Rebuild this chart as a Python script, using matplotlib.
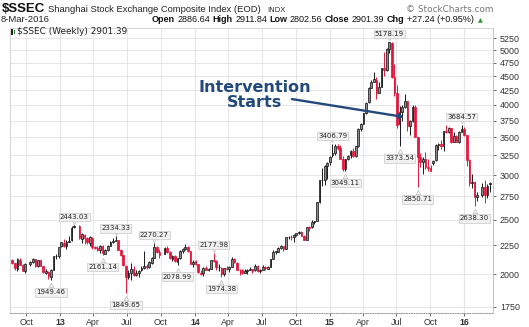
import matplotlib
matplotlib.use('Agg')
import matplotlib.pyplot as plt
import matplotlib.dates as mdates
from matplotlib.transforms import offset_copy
from matplotlib.ticker import FixedLocator, NullLocator
from matplotlib.patches import Rectangle
import datetime as dt

# ---------------- data (weekly OHLC) ----------------
dates = [
    '2012-08-24', '2012-08-31', '2012-09-07', '2012-09-14', '2012-09-21', '2012-09-28',
    '2012-10-12', '2012-10-19', '2012-10-26', '2012-11-02', '2012-11-09', '2012-11-16',
    '2012-11-23', '2012-11-30', '2012-12-07', '2012-12-14', '2012-12-21', '2012-12-28',
    '2013-01-04', '2013-01-11', '2013-01-18', '2013-01-25', '2013-02-01', '2013-02-08',
    '2013-02-22', '2013-03-01', '2013-03-08', '2013-03-15', '2013-03-22', '2013-03-29',
    '2013-04-05', '2013-04-12', '2013-04-19', '2013-04-26', '2013-05-03', '2013-05-10',
    '2013-05-17', '2013-05-24', '2013-05-31', '2013-06-07', '2013-06-14', '2013-06-21',
    '2013-06-28', '2013-07-05', '2013-07-12', '2013-07-19', '2013-07-26', '2013-08-02',
    '2013-08-09', '2013-08-16', '2013-08-23', '2013-08-30', '2013-09-06', '2013-09-13',
    '2013-09-20', '2013-09-27', '2013-10-11', '2013-10-18', '2013-10-25', '2013-11-01',
    '2013-11-08', '2013-11-15', '2013-11-22', '2013-11-29', '2013-12-06', '2013-12-13',
    '2013-12-20', '2013-12-27',
    '2014-01-03', '2014-01-10', '2014-01-17', '2014-01-24', '2014-01-31', '2014-02-07',
    '2014-02-14', '2014-02-21', '2014-02-28', '2014-03-07', '2014-03-14', '2014-03-21',
    '2014-03-28', '2014-04-04', '2014-04-11', '2014-04-18', '2014-04-25', '2014-05-02',
    '2014-05-09', '2014-05-16', '2014-05-23', '2014-05-30', '2014-06-06', '2014-06-13',
    '2014-06-20', '2014-06-27', '2014-07-04', '2014-07-11', '2014-07-18', '2014-07-25',
    '2014-08-01', '2014-08-08', '2014-08-15', '2014-08-22', '2014-08-29', '2014-09-05',
    '2014-09-12', '2014-09-19', '2014-09-26', '2014-10-03', '2014-10-10', '2014-10-17',
    '2014-10-24', '2014-10-31', '2014-11-07', '2014-11-14', '2014-11-21', '2014-11-28',
    '2014-12-05', '2014-12-12', '2014-12-19', '2014-12-26',
    '2015-01-02', '2015-01-09', '2015-01-16', '2015-01-23', '2015-01-30', '2015-02-06',
    '2015-02-13', '2015-02-20', '2015-02-27', '2015-03-06', '2015-03-13', '2015-03-20',
    '2015-03-27', '2015-04-03', '2015-04-10', '2015-04-17', '2015-04-24', '2015-05-01',
    '2015-05-08', '2015-05-15', '2015-05-22', '2015-05-29', '2015-06-05', '2015-06-12',
    '2015-06-19', '2015-06-26', '2015-07-03', '2015-07-10', '2015-07-17', '2015-07-24',
    '2015-07-31', '2015-08-07', '2015-08-14', '2015-08-21', '2015-08-28', '2015-09-04',
    '2015-09-11', '2015-09-18', '2015-09-25', '2015-10-02', '2015-10-09', '2015-10-16',
    '2015-10-23', '2015-10-30', '2015-11-06', '2015-11-13', '2015-11-20', '2015-11-27',
    '2015-12-04', '2015-12-11', '2015-12-18', '2015-12-25', '2016-01-01',
    '2016-01-08', '2016-01-15', '2016-01-22', '2016-01-29', '2016-02-05', '2016-02-19',
    '2016-02-26', '2016-03-04', '2016-03-11',
]
opens = [
    2115, 2090, 2045, 2122, 2075, 2025, 2086, 2100, 2125, 2065, 2115, 2068,
    2010, 2020, 1975, 2035, 2150, 2152,
    2240, 2275, 2245, 2285, 2295, 2420, 2430, 2310, 2350, 2315, 2275, 2320,
    2235, 2225, 2205, 2240, 2175, 2205, 2245, 2285, 2290, 2300, 2210, 2160,
    2070, 1975, 2005, 2040, 1990, 2010, 2030, 2050, 2065, 2055, 2095, 2140,
    2235, 2190, 2175, 2225, 2190, 2130, 2150, 2105, 2135, 2195, 2220, 2235,
    2195, 2085,
    2110, 2080, 2010, 2005, 2050, 2030, 2045, 2115, 2110, 2055, 2050, 2000,
    2045, 2045, 2060, 2130, 2095, 2035, 2030, 2010, 2025, 2035, 2040, 2030,
    2070, 2025, 2035, 2060, 2045, 2060, 2130, 2185, 2190, 2225, 2240, 2220,
    2325, 2330, 2330, 2345, 2365, 2375, 2340, 2300, 2420, 2420, 2475, 2490,
    2690, 2940, 2940, 3110,
    3160, 3258, 3285, 3380, 3350, 3210, 3075, 3205, 3250, 3310, 3245, 3375,
    3620, 3700, 3870, 4040, 4290, 4400, 4430, 4200, 4310, 4660, 4610, 5030,
    5150, 4480, 4200, 3690, 3880, 3960, 4070, 3660, 3745, 3965, 3500, 3235,
    3160, 3200, 3100, 3090, 3150, 3185, 3390, 3410, 3380, 3590, 3575, 3630,
    3440, 3520, 3430, 3580, 3625,
    3536, 3190, 2900, 2915, 2740, 2760, 2860, 2760, 2887,
]
highs = [
    2126, 2094, 2134, 2132, 2083, 2091, 2107, 2133, 2130, 2118, 2122, 2070,
    2040, 2025, 2040, 2150, 2170, 2236,
    2283, 2312, 2300, 2336, 2430, 2443.03, 2440, 2370, 2354, 2330, 2335, 2330,
    2245, 2245, 2250, 2250, 2215, 2250, 2290, 2320, 2334.33, 2303, 2215, 2165,
    2075, 2035, 2092, 2065, 2030, 2035, 2070, 2198, 2085, 2110, 2145, 2270.27,
    2240, 2220, 2230, 2242, 2200, 2165, 2160, 2140, 2205, 2225, 2260, 2240,
    2200, 2120,
    2115, 2085, 2030, 2060, 2065, 2050, 2120, 2177.98, 2120, 2080, 2060, 2050,
    2070, 2070, 2146, 2135, 2100, 2045, 2040, 2045, 2040, 2055, 2045, 2080,
    2075, 2045, 2075, 2065, 2065, 2130, 2210, 2200, 2230, 2250, 2245, 2330,
    2340, 2345, 2355, 2366, 2390, 2390, 2345, 2425, 2430, 2500, 2490, 2690,
    2940, 3091, 3130, 3170,
    3240, 3406.79, 3400, 3406, 3390, 3240, 3210, 3250, 3330, 3350, 3380, 3630,
    3720, 3870, 4050, 4300, 4420, 4572, 4480, 4400, 4660, 4958, 5051, 5178.19,
    5164, 4720, 4330, 3975, 4000, 4185, 4070, 3760, 4000, 3990, 3510, 3290,
    3230, 3300, 3200, 3120, 3190, 3400, 3420, 3460, 3600, 3680, 3645, 3640,
    3580, 3530, 3590, 3684.57, 3645,
    3540, 3200, 3010, 2930, 2800, 2900, 2935, 2890, 2912,
]
lows = [
    2088, 2032, 2029, 2072, 2024, 2005, 2070, 2095, 2062, 2058, 2066, 2012,
    2000, 1960, 1949.46, 2030, 2130, 2140,
    2235, 2236, 2220, 2285, 2290, 2410, 2310, 2270, 2260, 2262, 2245, 2220,
    2215, 2200, 2180, 2161.14, 2170, 2200, 2240, 2275, 2290, 2205, 2150, 2065,
    1849.65, 1960, 1950, 1985, 1980, 1975, 2025, 2040, 2040, 2050, 2085, 2140,
    2180, 2140, 2170, 2180, 2125, 2110, 2100, 2078.99, 2130, 2180, 2210, 2190,
    2080, 2060,
    2075, 2010, 1990, 1985, 2030, 2025, 2040, 2105, 2030, 2025, 1974.38, 1985,
    2030, 2020, 2055, 2090, 2030, 1990, 2000, 2005, 2000, 2030, 2010, 2025,
    2020, 2010, 2030, 2035, 2040, 2055, 2125, 2170, 2185, 2215, 2195, 2215,
    2310, 2300, 2285, 2340, 2360, 2335, 2295, 2295, 2390, 2410, 2450, 2485,
    2680, 2870, 2880, 2950,
    3130, 3230, 3250, 3330, 3200, 3050, 3049.11, 3195, 3220, 3225, 3230, 3365,
    3600, 3690, 3860, 4030, 4280, 4390, 4100, 4200, 4300, 4500, 4600, 4950,
    4470, 4140, 3630, 3373.54, 3750, 3950, 3600, 3540, 3730, 3500, 2850.71, 3100,
    3010, 3070, 3050, 3050, 3130, 3180, 3320, 3340, 3310, 3560, 3560, 3420,
    3430, 3430, 3420, 3580, 3525,
    3115, 2867, 2840, 2638.30, 2700, 2740, 2680, 2730, 2803,
]
closes = [
    2092, 2047, 2128, 2079, 2027, 2086, 2104, 2128, 2066, 2117, 2069, 2014,
    2026, 1980, 2033, 2150, 2153, 2233,
    2276, 2243, 2284, 2292, 2419, 2433, 2314, 2359, 2319, 2278, 2328, 2236,
    2225, 2206, 2244, 2177, 2205, 2247, 2283, 2288, 2301, 2210, 2162, 2073,
    1979, 2007, 2039, 1992, 2010, 2029, 2052, 2068, 2057, 2098, 2139, 2236,
    2191, 2160, 2228, 2193, 2133, 2149, 2106, 2135, 2197, 2220, 2238, 2196,
    2085, 2101,
    2083, 2013, 2004, 2054, 2033, 2044, 2115, 2113, 2056, 2057, 2004, 2047,
    2046, 2058, 2131, 2098, 2036, 2033, 2011, 2026, 2035, 2039, 2029, 2070,
    2024, 2036, 2059, 2047, 2059, 2127, 2185, 2194, 2226, 2240, 2217, 2327,
    2331, 2329, 2347, 2364, 2375, 2341, 2302, 2420, 2418, 2478, 2487, 2683,
    2938, 2938, 3108, 3157,
    3234, 3285, 3376, 3351, 3210, 3076, 3204, 3247, 3311, 3241, 3373, 3617,
    3691, 3864, 4034, 4287, 4394, 4442, 4205, 4308, 4657, 4611, 5023, 5166,
    4478, 4193, 3687, 3878, 3957, 4071, 3664, 3744, 3965, 3508, 3232, 3160,
    3200, 3097, 3092, 3053, 3183, 3391, 3413, 3383, 3590, 3580, 3630, 3436,
    3525, 3435, 3578, 3628, 3539,
    3186, 2901, 2916, 2737, 2763, 2860, 2767, 2874, 2901.39,
]

# labelled extremes: (value, 'H' = swing high / 'L' = swing low)
label_values = [1949.46, 2443.03, 2161.14, 2334.33, 1849.65, 2270.27, 2078.99,
                2177.98, 1974.38, 3406.79, 3049.11, 5178.19, 3373.54, 2850.71,
                3684.57, 2638.30]
label_kinds = ['L', 'H', 'L', 'H', 'L', 'H', 'L', 'H', 'L', 'H', 'L', 'H', 'L',
               'L', 'H', 'L']

y_ticks = [1750, 2000, 2250, 2500, 2750, 3000, 3250, 3500, 3750, 4000, 4250,
           4500, 4750, 5000, 5250]
x_tick_dates = ['2012-10-01', '2013-01-01', '2013-04-01', '2013-07-01',
                '2013-10-01', '2014-01-01', '2014-04-01', '2014-07-01',
                '2014-10-01', '2015-01-01', '2015-04-01', '2015-07-01',
                '2015-10-01', '2016-01-01']
x_tick_labels = ['Oct', '13', 'Apr', 'Jul', 'Oct', '14', 'Apr', 'Jul', 'Oct',
                 '15', 'Apr', 'Jul', 'Oct', '16']

title_sym = '$SSEC'
title_name = 'Shanghai Stock Exchange Composite Index (EOD)'
quote_date = '8-Mar-2016'
quote_parts = [('Open', '2886.64'), ('High', '2911.84'), ('Low', '2802.56'),
               ('Close', '2901.39'), ('Chg', '+27.24 (+0.95%)')]

# ---------------- figure ----------------
W, H = 529, 327
fig = plt.figure(figsize=(W / 100, H / 100), dpi=100)
fig.patch.set_facecolor('white')


def fx(x):
    return x / W


def fy(y):
    return 1 - y / H


ax = fig.add_axes([fx(10), fy(312.7), (493 - 10) / W, (312.7 - 27.5) / H])
ax.set_yscale('log')

RED = '#e3173e'
BLK = '#1a1a1a'
xd = [mdates.date2num(dt.date.fromisoformat(d)) for d in dates]
bw = 4.6
for i, (x, o, h, l, c) in enumerate(zip(xd, opens, highs, lows, closes)):
    prev = closes[i - 1] if i > 0 else o
    col = RED if c < prev else BLK
    ax.vlines(x, l, h, color=col, lw=0.7, zorder=3)
    lo_b, hi_b = min(o, c), max(o, c)
    if hi_b - lo_b < 1:
        hi_b = lo_b + 1
    face = col if c < o else ('#ffffff' if col == BLK else '#f7b5c2')
    if col == BLK and c >= o:
        face = '#8a8a8a'
    ax.add_patch(Rectangle((x - bw / 2, lo_b), bw, hi_b - lo_b, facecolor=face,
                           edgecolor=col, lw=0.55, zorder=4))

ax.set_xlim(mdates.date2num(dt.date(2012, 8, 18)), mdates.date2num(dt.date(2016, 3, 19)))
ax.set_ylim(1707, 5490)

# ticks
ax.yaxis.set_major_locator(FixedLocator(y_ticks))
ax.yaxis.set_minor_locator(NullLocator())
ax.set_yticklabels([str(v) for v in y_ticks])
ax.yaxis.tick_right()
xt = [mdates.date2num(dt.date.fromisoformat(d)) for d in x_tick_dates]
ax.set_xticks(xt)
ax.set_xticklabels(x_tick_labels)
ax.xaxis.set_minor_locator(NullLocator())
for lab in ax.get_xticklabels():
    lab.set_fontfamily('Liberation Sans')
    if lab.get_text().isdigit():
        lab.set_fontweight('bold')
for lab in ax.get_yticklabels():
    lab.set_fontfamily('Liberation Sans')
ax.tick_params(axis='both', labelsize=6.4, colors='#333333', length=2, width=0.5)
ax.tick_params(axis='x', pad=1.5)
ax.tick_params(axis='y', pad=3)

ax.grid(True, color='#e6e6e6', lw=0.7, zorder=0)
for x, lab in zip(xt, x_tick_labels):
    if lab.isdigit():
        ax.axvline(x, color='#d2d2d2', lw=0.8, zorder=0.5)
for s in ['top', 'left']:
    ax.spines[s].set_color('#d0d0d0')
    ax.spines[s].set_linewidth(0.6)
ax.spines['right'].set_color('#b8b8b8')
ax.spines['right'].set_linewidth(0.6)
ax.spines['bottom'].set_color('#999999')
ax.spines['bottom'].set_linestyle((0, (1, 1.5)))
ax.spines['bottom'].set_linewidth(0.7)

# labelled highs / lows
for v, k in zip(label_values, label_kinds):
    src = highs if k == 'H' else lows
    idx = min(range(len(src)), key=lambda j: abs(src[j] - v))
    x = xd[idx]
    if k == 'H':
        off, moff, mk = 8, 3.5, 'v'
    else:
        off, moff, mk = -12, -5, '^'
    ax.annotate(f'{v:.2f}', xy=(x, v), xytext=(0, off), textcoords='offset pixels',
                ha='center', va='center', fontsize=5.0, color='#222222',
                fontfamily='DejaVu Sans', annotation_clip=False, zorder=6,
                bbox=dict(boxstyle='square,pad=0.18', fc='#f1f1f1', ec='#c9c9c9', lw=0.5))
    tr = offset_copy(ax.transData, fig=fig, x=0, y=moff, units='dots')
    ax.plot([x], [v], marker=mk, ms=3.2, mfc='#f6f6f6', mec='#bdbdbd', mew=0.5,
            transform=tr, zorder=5, clip_on=False)

# intervention note
NAVY = '#24497b'
ax.text(mdates.date2num(dt.date(2014, 6, 12)), 4170, 'Intervention\nStarts',
        ha='center', va='center', fontsize=11.5, fontweight='bold', color=NAVY,
        linespacing=1.0, fontfamily='DejaVu Sans', zorder=7)
ax.annotate('', xy=(mdates.date2num(dt.date(2015, 7, 22)), 3805),
            xytext=(mdates.date2num(dt.date(2014, 9, 21)), 4095),
            arrowprops=dict(arrowstyle='-|>', color=NAVY, lw=1.7, shrinkA=0,
                            shrinkB=0, mutation_scale=6), zorder=7)

# legend line inside plot
fig.patches.append(Rectangle((fx(11), fy(34.5)), 2.2 / W, 6 / H, transform=fig.transFigure,
                             facecolor='#222222', edgecolor='none'))
fig.patches.append(Rectangle((fx(13.6), fy(33.5)), 1.6 / W, 4 / H, transform=fig.transFigure,
                             facecolor='#2a8a2a', edgecolor='none'))
fig.text(fx(17), fy(31.5), '$SSEC (Weekly) 2901.39', fontsize=6.4, color='#222222',
         fontfamily='DejaVu Sans', va='center', ha='left', parse_math=False)

# header
fig.text(fx(1.5), fy(12), title_sym, fontsize=9.5, fontweight='bold', color='#111111',
         fontfamily='Liberation Sans', va='baseline', parse_math=False)
fig.text(fx(48), fy(12), title_name, fontsize=6.75, color='#222222',
         fontfamily='Liberation Sans', va='baseline')
fig.text(fx(267), fy(12), 'INDX', fontsize=5.3, color='#333333',
         fontfamily='DejaVu Sans', va='baseline')
fig.text(fx(493), fy(12), '\u00a9 StockCharts.com', fontsize=6.4, color='#777777',
         fontfamily='DejaVu Sans', va='baseline', ha='right')
fig.text(fx(1), fy(22.5), quote_date, fontsize=6.8, color='#222222',
         fontfamily='Liberation Sans', va='baseline')

renderer = fig.canvas.get_renderer()
pieces = []
for lab, val in quote_parts:
    pieces.append((lab, 'bold'))
    pieces.append((val, 'normal'))
texts = []
total = 0
gap = 2.4
for s, w in pieces:
    t = fig.text(0, fy(22.5), s, fontsize=6.5, fontweight=w, color='#111111',
                 fontfamily='Liberation Sans', va='baseline')
    wpx = t.get_window_extent(renderer).width
    texts.append((t, wpx))
    total += wpx + gap
xcur = 476 - total
for t, wpx in texts:
    t.set_x(fx(xcur))
    xcur += wpx + gap
fig.text(fx(478), fy(22.5), '\u25b2', fontsize=4.5, color='#1f9a2a',
         fontfamily='DejaVu Sans', va='baseline')

fig.savefig('out.png', dpi=100, facecolor='white')
